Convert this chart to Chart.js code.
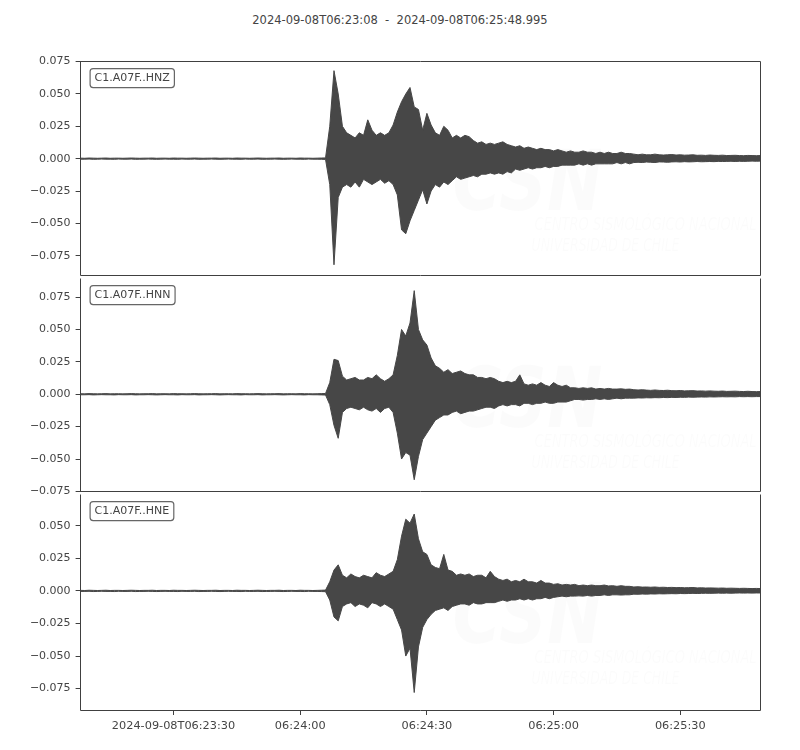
<!DOCTYPE html>
<html>
<head>
<meta charset="utf-8">
<script src="https://cdn.jsdelivr.net/npm/chart.js@4.4.1/dist/chart.umd.min.js"></script>
<style>
  html, body { margin: 0; padding: 0; background: #ffffff; }
  body { width: 800px; height: 750px; position: relative; overflow: hidden; font-family: "DejaVu Sans", sans-serif; }
  canvas { position: absolute; left: 0; }
  #title { position: absolute; top: 13px; left: 0; width: 800px; text-align: center; font-size: 11.5px; line-height: 14px; color: #444; white-space: pre; }
</style>
</head>
<body>
<div id="title">2024-09-08T06:23:08  -  2024-09-08T06:25:48.995</div>
<canvas id="c0" width="800" height="237" style="top:50px"></canvas>
<canvas id="c1" width="800" height="236" style="top:267px"></canvas>
<canvas id="c2" width="800" height="262" style="top:483px"></canvas>
<script>
// ---------------- DATA ----------------
const traceLabels = ['C1.A07F..HNZ', 'C1.A07F..HNN', 'C1.A07F..HNE'];
// x tick positions in seconds after 2024-09-08T06:23:08
const tickSeconds = [22, 52, 82, 112, 142];
const tickLabels = ['2024-09-08T06:23:30', '06:24:00', '06:24:30', '06:25:00', '06:25:30'];
const yTicks = [-0.075, -0.05, -0.025, 0, 0.025, 0.05, 0.075];

// 1-second envelope (max / min) of each trace, seconds 0..58 (before the P arrival)
const preEventMax = [
  0.0004, 0.0003, 0.0005, 0.0004, 0.0003, 0.0004, 0.0005, 0.0003, 0.0004, 0.0004,
  0.0003, 0.0004, 0.0005, 0.0004, 0.0003, 0.0004, 0.0004, 0.0005, 0.0003, 0.0004,
  0.0004, 0.0003, 0.0005, 0.0004, 0.0004, 0.0003, 0.0004, 0.0005, 0.0004, 0.0003,
  0.0004, 0.0004, 0.0005, 0.0003, 0.0004, 0.0004, 0.0003, 0.0005, 0.0004, 0.0004,
  0.0003, 0.0004, 0.0005, 0.0004, 0.0003, 0.0004, 0.0004, 0.0005, 0.0003, 0.0004,
  0.0004, 0.0003, 0.0005, 0.0004, 0.0004, 0.0003, 0.0004, 0.0005, 0.0006
];
const preEventMin = [
  -0.0004, -0.0004, -0.0003, -0.0005, -0.0004, -0.0003, -0.0004, -0.0004, -0.0005, -0.0003,
  -0.0004, -0.0004, -0.0003, -0.0005, -0.0004, -0.0004, -0.0003, -0.0004, -0.0005, -0.0004,
  -0.0003, -0.0004, -0.0004, -0.0005, -0.0003, -0.0004, -0.0004, -0.0003, -0.0005, -0.0004,
  -0.0004, -0.0003, -0.0004, -0.0005, -0.0004, -0.0003, -0.0004, -0.0004, -0.0005, -0.0003,
  -0.0004, -0.0004, -0.0003, -0.0005, -0.0004, -0.0004, -0.0003, -0.0004, -0.0005, -0.0004,
  -0.0003, -0.0004, -0.0004, -0.0005, -0.0003, -0.0004, -0.0004, -0.0005, -0.0006
];

// seconds 59..161
const hnzMax = [
  0.025, 0.068, 0.050, 0.025, 0.020, 0.018, 0.016, 0.020, 0.018, 0.030,
  0.022, 0.018, 0.020, 0.018, 0.020, 0.026, 0.036, 0.044, 0.050, 0.055,
  0.040, 0.038, 0.022, 0.035, 0.026, 0.020, 0.018, 0.025, 0.022, 0.016,
  0.018, 0.016, 0.018, 0.017, 0.014, 0.012, 0.013, 0.011, 0.012, 0.011,
  0.012, 0.013, 0.011, 0.010, 0.009, 0.010, 0.008, 0.009, 0.008, 0.007,
  0.008, 0.007, 0.007, 0.006, 0.007, 0.006, 0.005, 0.006, 0.005, 0.005,
  0.006, 0.005, 0.005, 0.004, 0.005, 0.004, 0.005, 0.004, 0.004, 0.005,
  0.004, 0.004,
  0.0035, 0.0030, 0.0035, 0.0030, 0.0030, 0.0035, 0.0030, 0.0028, 0.0030, 0.0032,
  0.0028, 0.0030, 0.0027, 0.0028, 0.0030, 0.0026, 0.0027, 0.0025, 0.0028, 0.0026,
  0.0025, 0.0027, 0.0024, 0.0025, 0.0026, 0.0024, 0.0023, 0.0025, 0.0024, 0.0023,
  0.0024
];
const hnzMin = [
  -0.020, -0.082, -0.030, -0.022, -0.020, -0.022, -0.018, -0.022, -0.016, -0.018,
  -0.020, -0.018, -0.016, -0.019, -0.017, -0.020, -0.028, -0.055, -0.058, -0.048,
  -0.040, -0.032, -0.024, -0.035, -0.025, -0.020, -0.022, -0.018, -0.020, -0.017,
  -0.014, -0.016, -0.015, -0.014, -0.013, -0.014, -0.012, -0.012, -0.011, -0.012,
  -0.011, -0.012, -0.010, -0.011, -0.008, -0.009, -0.008, -0.007, -0.008, -0.007,
  -0.007, -0.006, -0.007, -0.006, -0.006, -0.005, -0.005, -0.005, -0.005, -0.004,
  -0.005, -0.004, -0.005, -0.004, -0.004, -0.004, -0.004, -0.004, -0.003, -0.004,
  -0.003, -0.004,
  -0.0030, -0.0028, -0.0030, -0.0026, -0.0028, -0.0030, -0.0025, -0.0026, -0.0028, -0.0025,
  -0.0024, -0.0026, -0.0023, -0.0025, -0.0024, -0.0022, -0.0024, -0.0023, -0.0022, -0.0023,
  -0.0021, -0.0022, -0.0021, -0.0020, -0.0022, -0.0020, -0.0021, -0.0020, -0.0019, -0.0020,
  -0.0019
];

const hnnMax = [
  0.009, 0.027, 0.026, 0.014, 0.011, 0.012, 0.013, 0.011, 0.011, 0.013,
  0.012, 0.015, 0.012, 0.010, 0.012, 0.015, 0.030, 0.050, 0.045, 0.055,
  0.080, 0.050, 0.042, 0.038, 0.028, 0.022, 0.020, 0.017, 0.019, 0.016,
  0.017, 0.018, 0.016, 0.015, 0.015, 0.013, 0.013, 0.012, 0.013, 0.012,
  0.010, 0.009, 0.010, 0.009, 0.010, 0.015, 0.008, 0.007, 0.008, 0.007,
  0.009, 0.007, 0.006, 0.009, 0.007, 0.006, 0.007, 0.005, 0.005, 0.0045,
  0.005, 0.0045, 0.005, 0.004, 0.0045, 0.004, 0.0045, 0.004, 0.004, 0.0042,
  0.0038, 0.004,
  0.0035, 0.0033, 0.0035, 0.0032, 0.0030, 0.0033, 0.0030, 0.0029, 0.0031, 0.0028,
  0.0027, 0.0029, 0.0026, 0.0027, 0.0028, 0.0025, 0.0026, 0.0024, 0.0026, 0.0024,
  0.0023, 0.0025, 0.0022, 0.0023, 0.0024, 0.0022, 0.0021, 0.0023, 0.0021, 0.0020,
  0.0021
];
const hnnMin = [
  -0.008, -0.024, -0.034, -0.014, -0.011, -0.010, -0.011, -0.012, -0.010, -0.012,
  -0.013, -0.011, -0.014, -0.011, -0.010, -0.014, -0.030, -0.050, -0.045, -0.047,
  -0.066, -0.048, -0.035, -0.030, -0.025, -0.020, -0.018, -0.016, -0.016, -0.014,
  -0.013, -0.015, -0.014, -0.013, -0.013, -0.012, -0.011, -0.010, -0.010, -0.011,
  -0.009, -0.008, -0.009, -0.008, -0.008, -0.009, -0.007, -0.007, -0.008, -0.007,
  -0.007, -0.006, -0.007, -0.007, -0.006, -0.006, -0.006, -0.005, -0.004, -0.004,
  -0.0045, -0.004, -0.004, -0.0035, -0.004, -0.0035, -0.004, -0.0035, -0.003, -0.0035,
  -0.003, -0.003,
  -0.0030, -0.0028, -0.0029, -0.0027, -0.0028, -0.0026, -0.0027, -0.0025, -0.0026, -0.0024,
  -0.0025, -0.0023, -0.0024, -0.0022, -0.0023, -0.0022, -0.0021, -0.0022, -0.0020, -0.0021,
  -0.0020, -0.0019, -0.0020, -0.0019, -0.0020, -0.0018, -0.0019, -0.0018, -0.0019, -0.0018,
  -0.0018
];

const hneMax = [
  0.007, 0.016, 0.020, 0.012, 0.010, 0.013, 0.011, 0.010, 0.012, 0.011,
  0.010, 0.014, 0.012, 0.011, 0.013, 0.015, 0.024, 0.042, 0.055, 0.052,
  0.059, 0.040, 0.030, 0.028, 0.020, 0.018, 0.017, 0.028, 0.016, 0.015,
  0.012, 0.013, 0.012, 0.013, 0.011, 0.012, 0.012, 0.010, 0.015, 0.011,
  0.009, 0.008, 0.009, 0.007, 0.008, 0.007, 0.009, 0.007, 0.007, 0.006,
  0.008, 0.006, 0.006, 0.005, 0.0055, 0.0045, 0.005, 0.0045, 0.005, 0.004,
  0.0045, 0.004, 0.0045, 0.004, 0.004, 0.0045, 0.0038, 0.004, 0.0035, 0.004,
  0.0035, 0.0035,
  0.0030, 0.0032, 0.0029, 0.0030, 0.0028, 0.0030, 0.0027, 0.0028, 0.0026, 0.0027,
  0.0025, 0.0026, 0.0024, 0.0025, 0.0026, 0.0023, 0.0024, 0.0022, 0.0023, 0.0022,
  0.0021, 0.0022, 0.0020, 0.0021, 0.0020, 0.0019, 0.0020, 0.0019, 0.0018, 0.0019,
  0.0018
];
const hneMin = [
  -0.007, -0.020, -0.023, -0.012, -0.010, -0.009, -0.012, -0.010, -0.011, -0.013,
  -0.009, -0.010, -0.012, -0.010, -0.012, -0.014, -0.022, -0.030, -0.050, -0.044,
  -0.078, -0.043, -0.028, -0.022, -0.018, -0.015, -0.014, -0.013, -0.015, -0.012,
  -0.011, -0.010, -0.010, -0.011, -0.009, -0.010, -0.010, -0.009, -0.009, -0.009,
  -0.008, -0.007, -0.008, -0.007, -0.007, -0.006, -0.007, -0.006, -0.007, -0.006,
  -0.006, -0.005, -0.006, -0.005, -0.0045, -0.004, -0.0045, -0.004, -0.004, -0.0038,
  -0.004, -0.0035, -0.004, -0.0035, -0.0035, -0.003, -0.0035, -0.003, -0.003, -0.0032,
  -0.003, -0.003,
  -0.0025, -0.0026, -0.0024, -0.0025, -0.0023, -0.0024, -0.0022, -0.0023, -0.0022, -0.0021,
  -0.0022, -0.0020, -0.0021, -0.0020, -0.0019, -0.0020, -0.0019, -0.0018, -0.0019, -0.0018,
  -0.0017, -0.0018, -0.0017, -0.0018, -0.0017, -0.0016, -0.0017, -0.0016, -0.0017, -0.0016,
  -0.0016
];

// y-limits of each panel
const yLimits = [[-0.0902, 0.075], [-0.075, 0.0893], [-0.0914, 0.0739]];
const xEnd = 160.995;

// ---------------- DRAWING ----------------
const TRACE = '#474747';
const AXIS = '#404040';
const TEXT = '#444444';
const FONT = 'DejaVu Sans';

function points(pre, act) {
  return pre.concat(act).map((v, i) => ({ x: i, y: v }));
}
function fmtY(v) {
  const s = Math.abs(v) < 1e-12 ? '0.000' : v.toFixed(3);
  return s.replace('-', '\u2212');
}

function panelPlugin(idx) {
  return {
    id: 'panel' + idx,
    beforeDatasetsDraw(chart) {
      const a = chart.chartArea, ctx = chart.ctx;
      ctx.save();
      ctx.fillStyle = 'rgba(0,0,0,0.016)';
      ctx.font = 'italic bold 84px "' + FONT + '"';
      ctx.fillText('CSN', a.left + 372, a.top + 148, 150);
      ctx.font = 'italic 17px "' + FONT + '"';
      ctx.fillText('CENTRO SISMOLÓGICO NACIONAL', a.left + 454, a.top + 168, 222);
      ctx.fillText('UNIVERSIDAD DE CHILE', a.left + 451, a.top + 189, 148);
      ctx.restore();
    },
    afterDraw(chart) {
      const a = chart.chartArea, ctx = chart.ctx;
      ctx.save();
      ctx.strokeStyle = AXIS;
      ctx.lineWidth = 1;
      const x0 = Math.floor(a.left) + 0.5, x1 = Math.floor(a.right) + 0.5;
      const y0 = Math.floor(a.top) + 0.5, y1 = Math.floor(a.bottom) + 0.5;
      ctx.beginPath();
      if (idx === 0) { ctx.moveTo(x0, y0); ctx.lineTo(x1, y0); }
      ctx.moveTo(x1, y0); ctx.lineTo(x1, y1);
      ctx.moveTo(x0, y1); ctx.lineTo(x1, y1);
      ctx.moveTo(x0, y0); ctx.lineTo(x0, y1);
      ctx.stroke();
      // trace label box
      ctx.font = '11px "' + FONT + '"';
      const label = traceLabels[idx];
      const w = ctx.measureText(label).width + 9;
      const bx = a.left + 9.5, by = a.top + 7, bh = 19;
      ctx.beginPath();
      ctx.roundRect(bx, by, w, bh, 3);
      ctx.fillStyle = '#ffffff';
      ctx.fill();
      ctx.strokeStyle = '#666666';
      ctx.lineWidth = 1.2;
      ctx.stroke();
      ctx.fillStyle = TEXT;
      ctx.textBaseline = 'middle';
      ctx.fillText(label, bx + 4.5, by + bh / 2 + 0.5);
      ctx.restore();
    }
  };
}

function makeChart(idx, maxArr, minArr, showX) {
  const [yMin, yMax] = yLimits[idx];
  return new Chart(document.getElementById('c' + idx), {
    type: 'line',
    data: {
      datasets: [
        { data: points(preEventMax, maxArr), borderColor: TRACE, backgroundColor: TRACE,
          borderWidth: 1, pointRadius: 0, fill: '+1', tension: 0 },
        { data: points(preEventMin, minArr), borderColor: TRACE, backgroundColor: TRACE,
          borderWidth: 1, pointRadius: 0, fill: false, tension: 0 }
      ]
    },
    options: {
      responsive: false,
      animation: false,
      events: [],
      layout: { padding: { left: 0, right: 39.5, top: 10, bottom: showX ? 5 : 10 } },
      plugins: { legend: { display: false }, tooltip: { enabled: false } },
      scales: {
        x: {
          type: 'linear', min: 0, max: xEnd, display: showX,
          afterBuildTicks: s => { s.ticks = tickSeconds.map(v => ({ value: v })); },
          afterFit: s => { s.height = showX ? 30 : 0; },
          ticks: {
            callback: v => tickLabels[tickSeconds.indexOf(v)],
            color: TEXT, font: { size: 11.3, family: FONT }, padding: 4, maxRotation: 0, autoSkip: false
          },
          grid: { display: true, drawOnChartArea: false, drawTicks: true, tickLength: 5, tickColor: AXIS, tickWidth: 1 },
          border: { display: false }
        },
        y: {
          min: yMin, max: yMax,
          afterBuildTicks: s => {
            s.ticks = yTicks.filter(v => v >= yMin - 1e-9 && v <= yMax + 1e-9).map(v => ({ value: v }));
          },
          afterFit: s => { s.width = 80.6; },
          ticks: { callback: v => fmtY(v), color: TEXT, font: { size: 11, family: FONT }, padding: 5, autoSkip: false },
          grid: { display: true, drawOnChartArea: false, drawTicks: true, tickLength: 5, tickColor: AXIS, tickWidth: 1 },
          border: { display: false }
        }
      }
    },
    plugins: [panelPlugin(idx)]
  });
}

makeChart(0, hnzMax, hnzMin, false);
makeChart(1, hnnMax, hnnMin, false);
makeChart(2, hneMax, hneMin, true);
</script>
</body>
</html>
